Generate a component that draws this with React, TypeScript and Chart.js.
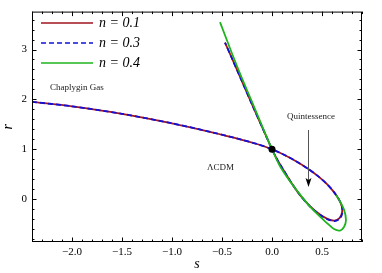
import { useEffect, useRef } from "react";
import { Chart, registerables } from "chart.js";

Chart.register(...registerables);

// ---- data (s, r) ----
const seriesLabels = ["n = 0.1", "n = 0.3", "n = 0.4"];

const sN01 = [-2.4, -2.0, -1.5, -1.0, -0.6, -0.3, -0.15, 0, 0.12, 0.24, 0.36, 0.46, 0.55, 0.62, 0.67, 0.697, 0.7, 0.675, 0.625, 0.56, 0.48, 0.38, 0.28, 0.19, 0.11, 0.05, 0, -0.1, -0.2, -0.3, -0.4, -0.47];
const rN01 = [1.95, 1.86, 1.71, 1.52, 1.34, 1.19, 1.105, 1.0, 0.89, 0.76, 0.61, 0.46, 0.3, 0.14, -0.01, -0.14, -0.27, -0.38, -0.43, -0.4, -0.31, -0.14, 0.08, 0.34, 0.6, 0.8, 1.0, 1.45, 1.9, 2.36, 2.82, 3.14];

const sN03 = [-2.4, -2.0, -1.5, -1.0, -0.6, -0.3, -0.15, 0, 0.12, 0.24, 0.36, 0.46, 0.55, 0.62, 0.67, 0.699, 0.703, 0.678, 0.627, 0.562, 0.481, 0.381, 0.281, 0.19, 0.11, 0.05, 0, -0.1, -0.2, -0.3, -0.4, -0.47];
const rN03 = [1.95, 1.86, 1.71, 1.52, 1.34, 1.19, 1.105, 1.0, 0.89, 0.76, 0.61, 0.46, 0.3, 0.14, -0.01, -0.14, -0.28, -0.39, -0.44, -0.41, -0.32, -0.15, 0.08, 0.34, 0.6, 0.8, 1.0, 1.45, 1.9, 2.36, 2.82, 3.14];

const sN04 = [-0.52, -0.4, -0.3, -0.2, -0.1, 0, 0.08, 0.22, 0.38, 0.55, 0.62, 0.68, 0.72, 0.74, 0.72, 0.67, 0.64];
const rN04 = [3.55, 2.92, 2.42, 1.95, 1.47, 1.0, 0.66, 0.25, -0.15, -0.48, -0.6, -0.63, -0.56, -0.42, -0.21, -0.01, 0.08];

const lcdmS = [0];
const lcdmR = [1];

const xMajorTicks = [-2.0, -1.5, -1.0, -0.5, 0.0, 0.5];
const yMajorTicks = [0, 1, 2, 3];

const X_MIN = -2.4, X_MAX = 0.9, Y_MIN = -0.86, Y_MAX = 3.76;

const colors = ["#a0141e", "#1010dc", "#1eb41e"];

const toPts = (xs: number[], ys: number[]) => xs.map((x, i) => ({ x, y: ys[i] }));

const SERIF = "'Liberation Serif', 'DejaVu Serif', serif";

const fmtX = (v: number) => {
  const s = Math.abs(v).toFixed(1);
  return v < -1e-9 ? "\u2212" + s : s;
};

const framePlugin = {
  id: "frame",
  afterDatasetsDraw(chart: any) {
    const { ctx, chartArea: a, scales } = chart;
    const xs = scales.x, ys = scales.y;
    ctx.save();
    ctx.strokeStyle = "#000";
    ctx.lineWidth = 1;
    ctx.strokeRect(a.left + 0.5, a.top + 0.5, a.right - a.left - 1, a.bottom - a.top - 1);
    ctx.beginPath();
    for (let i = -24; i <= 9; i++) {
      const v = i / 10;
      const major = i % 5 === 0;
      const len = major ? 4.5 : 2.5;
      const px = Math.round(xs.getPixelForValue(v)) + 0.5;
      ctx.moveTo(px, a.bottom); ctx.lineTo(px, a.bottom - len);
      ctx.moveTo(px, a.top); ctx.lineTo(px, a.top + len);
    }
    for (let i = -4; i <= 18; i++) {
      const v = i / 5;
      const major = i % 5 === 0;
      const len = major ? 4.5 : 2.5;
      const py = Math.round(ys.getPixelForValue(v)) + 0.5;
      ctx.moveTo(a.left, py); ctx.lineTo(a.left + len, py);
      ctx.moveTo(a.right, py); ctx.lineTo(a.right - len, py);
    }
    ctx.stroke();
    ctx.restore();
  },
  afterDraw(chart: any) {
    const { ctx } = chart;
    ctx.save();
    // annotations
    ctx.fillStyle = "#222";
    ctx.font = `9px ${SERIF}`;
    ctx.textBaseline = "middle";
    ctx.textAlign = "left";
    ctx.fillText("Chaplygin Gas", 50, 88);
    ctx.fillText("Quintessence", 287, 117);
    ctx.fillText("\u039BCDM", 207, 168);
    // arrow
    const ax = 308.5;
    ctx.strokeStyle = "#555";
    ctx.lineWidth = 1;
    ctx.beginPath();
    ctx.moveTo(ax, 130); ctx.lineTo(ax, 180);
    ctx.stroke();
    ctx.fillStyle = "#000";
    ctx.beginPath();
    ctx.moveTo(ax, 187); ctx.lineTo(ax - 3, 178); ctx.lineTo(ax, 180); ctx.lineTo(ax + 3, 178);
    ctx.closePath();
    ctx.fill();
    // legend
    const rows = [23, 43, 63];
    rows.forEach((y, i) => {
      ctx.strokeStyle = colors[i];
      ctx.lineWidth = 1.6;
      ctx.setLineDash(i === 1 ? [5, 3] : []);
      ctx.beginPath();
      ctx.moveTo(41, y); ctx.lineTo(93, y);
      ctx.stroke();
      ctx.setLineDash([]);
      ctx.fillStyle = "#000";
      ctx.font = `italic 14px ${SERIF}`;
      ctx.fillText(seriesLabels[i], 99, y);
    });
    ctx.restore();
  },
};

export default function App() {
  const ref = useRef<HTMLCanvasElement | null>(null);
  useEffect(() => {
    document.body.style.margin = "0";
    const canvas = ref.current!;
    const chart = new Chart(canvas, {
      type: "scatter",
      data: {
        datasets: [
          { label: seriesLabels[0], data: toPts(sN01, rN01), showLine: true, borderColor: colors[0], borderWidth: 1.8, pointRadius: 0, tension: 0.3, fill: false, order: 3 },
          { label: seriesLabels[1], data: toPts(sN03, rN03), showLine: true, borderColor: colors[1], borderWidth: 1.8, borderDash: [5, 3], pointRadius: 0, tension: 0.3, fill: false, order: 2 },
          { label: seriesLabels[2], data: toPts(sN04, rN04), showLine: true, borderColor: colors[2], borderWidth: 1.8, pointRadius: 0, tension: 0.3, fill: false, order: 1 },
          { label: "LCDM", data: toPts(lcdmS, lcdmR), showLine: false, pointRadius: 3.5, pointBackgroundColor: "#000", pointBorderWidth: 0, order: 0 },
        ],
      },
      options: {
        responsive: false,
        animation: false,
        devicePixelRatio: 1,
        layout: { padding: { top: 11, right: 20, left: 0, bottom: 0 } },
        plugins: { legend: { display: false }, tooltip: { enabled: false } },
        scales: {
          x: {
            type: "linear",
            min: X_MIN,
            max: X_MAX,
            afterBuildTicks: (s: any) => { s.ticks = xMajorTicks.map((v) => ({ value: v })); },
            afterFit: (s: any) => { s.height = 31; },
            ticks: { callback: (v: any) => fmtX(Number(v)), color: "#000", font: { family: SERIF, size: 11 }, padding: 4, maxRotation: 0, autoSkip: false },
            grid: { display: false, drawTicks: false },
            border: { display: false },
            title: { display: true, text: "s", color: "#000", font: { family: SERIF, size: 14, style: "italic" }, padding: 0 },
          },
          y: {
            type: "linear",
            min: Y_MIN,
            max: Y_MAX,
            afterBuildTicks: (s: any) => { s.ticks = yMajorTicks.map((v) => ({ value: v })); },
            afterFit: (s: any) => { s.width = 32; },
            ticks: { callback: (v: any) => String(v), color: "#000", font: { family: SERIF, size: 11 }, padding: 5, autoSkip: false },
            grid: { display: false, drawTicks: false },
            border: { display: false },
            title: { display: true, text: "r", color: "#000", font: { family: SERIF, size: 14, style: "italic" }, padding: 0 },
          },
        },
      },
      plugins: [framePlugin],
    } as any);
    return () => chart.destroy();
  }, []);
  return <canvas ref={ref} width={382} height={273} style={{ display: "block", width: 382, height: 273 }} />;
}
